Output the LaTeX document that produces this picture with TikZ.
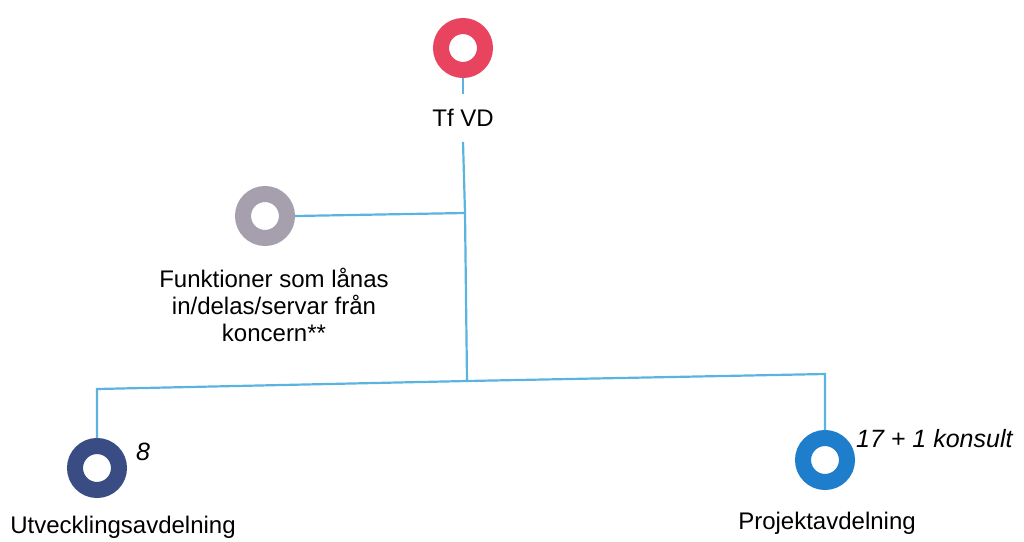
\documentclass[tikz,border=0pt]{standalone}
\usepackage{fontspec}
\setmainfont{Liberation Sans}
\definecolor{cred}{HTML}{E8435F}
\definecolor{cgrey}{HTML}{A59FAE}
\definecolor{cdark}{HTML}{3A4C84}
\definecolor{cblue}{HTML}{1F7ECB}
\definecolor{cline}{HTML}{5BB4E0}
\begin{document}
\begin{tikzpicture}[x=1pt,y=-1pt,
  ring/.style={circle,draw=#1,line width=16pt,fill=white,inner sep=0pt,minimum size=44pt},
  conn/.style={draw=cline,line width=2.2pt},
  lbl/.style={font=\fontsize{24}{27}\selectfont,inner sep=0pt,align=center},
  num/.style={font=\fontsize{25}{27}\selectfont\itshape,inner sep=0pt,anchor=west}]
\useasboundingbox (0,0) rectangle (1024,541);
\node[ring=cred] (red) at (463,48) {};
\node[ring=cgrey] (grey) at (265,216) {};
\node[ring=cdark] (dkb) at (97,468) {};
\node[ring=cblue] (blu) at (825,460) {};
\node[lbl,inner sep=15pt] (tfvd) at (463,118) {Tf VD};
\node[lbl] (glbl) at (274,305) {Funktioner som lånas\\in/delas/servar från\\koncern**};
\node[lbl,anchor=base] (ulbl) at (123,533) {Utvecklingsavdelning};
\node[lbl,anchor=base] (plbl) at (827,529) {Projektavdelning};
\node[num] (n8) at (136,452) {8};
\node[num] (n17) at (856,439) {17 + 1 konsult};
\coordinate (j1) at (465,213);
\coordinate (j2) at (467,381);
\coordinate (cl) at (97,389);
\coordinate (cr) at (825,374);
\draw[conn] (red.south) -- (tfvd.north);
\draw[conn] (tfvd.south) -- (j1) -- (j2);
\draw[conn] (grey.east) -- (j1);
\draw[conn] (j2) -- (cl) -- (dkb.north);
\draw[conn] (j2) -- (cr) -- (blu.north);
\end{tikzpicture}
\end{document}
